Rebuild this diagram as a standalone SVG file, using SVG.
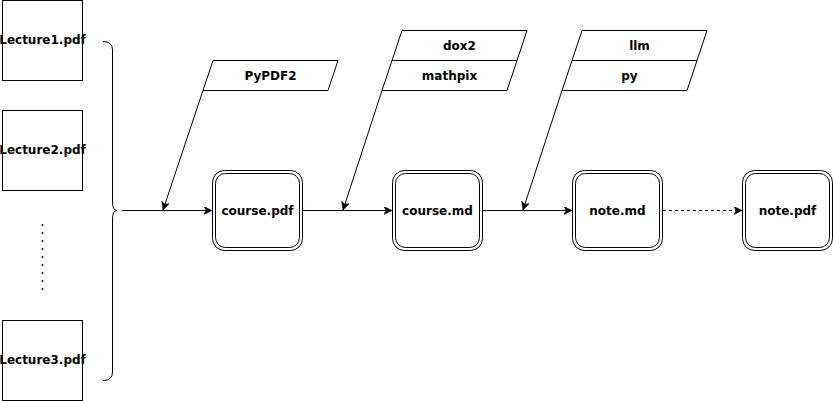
<svg xmlns="http://www.w3.org/2000/svg" width="833" height="401" viewBox="0 0 833 401">
<style>
.box{fill:#fff;stroke:#000;stroke-width:1}
.t{font-family:"DejaVu Sans",sans-serif;font-weight:bold;font-size:12px;fill:#000;text-anchor:middle}
.ln{fill:none;stroke:#000;stroke-width:1}
</style>
<defs>
<marker id="arr" markerWidth="10" markerHeight="10" refX="8" refY="4" orient="auto" markerUnits="userSpaceOnUse">
<path d="M0,0 L8,4 L0,8 L2,4 z" fill="#000" stroke="#000" stroke-width="0.5"/>
</marker>
</defs>
<rect width="833" height="401" fill="#fff"/>
<g id="lecture1"><rect class="box" x="2.5" y="0.5" width="80" height="80"/><text class="t" x="42.5" y="44">Lecture1.pdf</text></g>
<g id="lecture2"><rect class="box" x="2.5" y="110.5" width="80" height="80"/><text class="t" x="42.5" y="154">Lecture2.pdf</text></g>
<g id="lecture3"><rect class="box" x="2.5" y="320.5" width="80" height="80"/><text class="t" x="42.5" y="364">Lecture3.pdf</text></g>
<g id="dots"><line x1="42.5" y1="225" x2="42.5" y2="290" stroke="#000" stroke-width="2" stroke-linecap="round" stroke-dasharray="0 8"/></g>
<g id="brace"><path class="ln" d="M103,41.5 Q112.5,41.5 112.5,50 L112.5,202 Q112.5,210.5 117,210.5 Q112.5,210.5 112.5,219 L112.5,372 Q112.5,380.5 103,380.5"/></g>
<g id="pypdf2"><polygon class="box" points="213,60.5 338,60.5 328,90.5 203,90.5"/><text class="t" x="270.5" y="79.5">PyPDF2</text></g>
<g id="tools-md"><polygon class="box" points="402,30.5 527,30.5 517,60.5 392,60.5"/><text class="t" x="459.5" y="49.5">dox2</text>
<polygon class="box" points="392,60.5 517,60.5 507,90.5 382,90.5"/><text class="t" x="449.5" y="79.5">mathpix</text></g>
<g id="tools-note"><polygon class="box" points="582,30.5 707,30.5 697,60.5 572,60.5"/><text class="t" x="639.5" y="49.5">llm</text>
<polygon class="box" points="572,60.5 697,60.5 687,90.5 562,90.5"/><text class="t" x="629.5" y="79.5">py</text></g>
<g id="course-pdf"><rect class="box" x="212.5" y="170.5" width="90" height="80" rx="12"/><rect class="box" x="215.5" y="173.5" width="84" height="74" rx="10"/><text class="t" x="257.5" y="214.5">course.pdf</text></g>
<g id="course-md"><rect class="box" x="392.5" y="170.5" width="90" height="80" rx="12"/><rect class="box" x="395.5" y="173.5" width="84" height="74" rx="10"/><text class="t" x="437.5" y="214.5">course.md</text></g>
<g id="note-md"><rect class="box" x="572.5" y="170.5" width="90" height="80" rx="12"/><rect class="box" x="575.5" y="173.5" width="84" height="74" rx="10"/><text class="t" x="617.5" y="214.5">note.md</text></g>
<g id="note-pdf"><rect class="box" x="742.5" y="170.5" width="90" height="80" rx="12"/><rect class="box" x="745.5" y="173.5" width="84" height="74" rx="10"/><text class="t" x="787.5" y="214.5">note.pdf</text></g>
<g id="connectors">
<line class="ln" x1="122" y1="210.5" x2="212" y2="210.5" marker-end="url(#arr)"/>
<line class="ln" x1="303" y1="210.5" x2="392" y2="210.5" marker-end="url(#arr)"/>
<line class="ln" x1="483" y1="210.5" x2="572" y2="210.5" marker-end="url(#arr)"/>
<line class="ln" x1="663" y1="210.5" x2="742" y2="210.5" stroke-dasharray="3 3" marker-end="url(#arr)"/>
<line class="ln" x1="203" y1="90.5" x2="163" y2="210" marker-end="url(#arr)"/>
<line class="ln" x1="382" y1="90.5" x2="343" y2="210" marker-end="url(#arr)"/>
<line class="ln" x1="562" y1="90.5" x2="523" y2="210" marker-end="url(#arr)"/>
</g>
</svg>
